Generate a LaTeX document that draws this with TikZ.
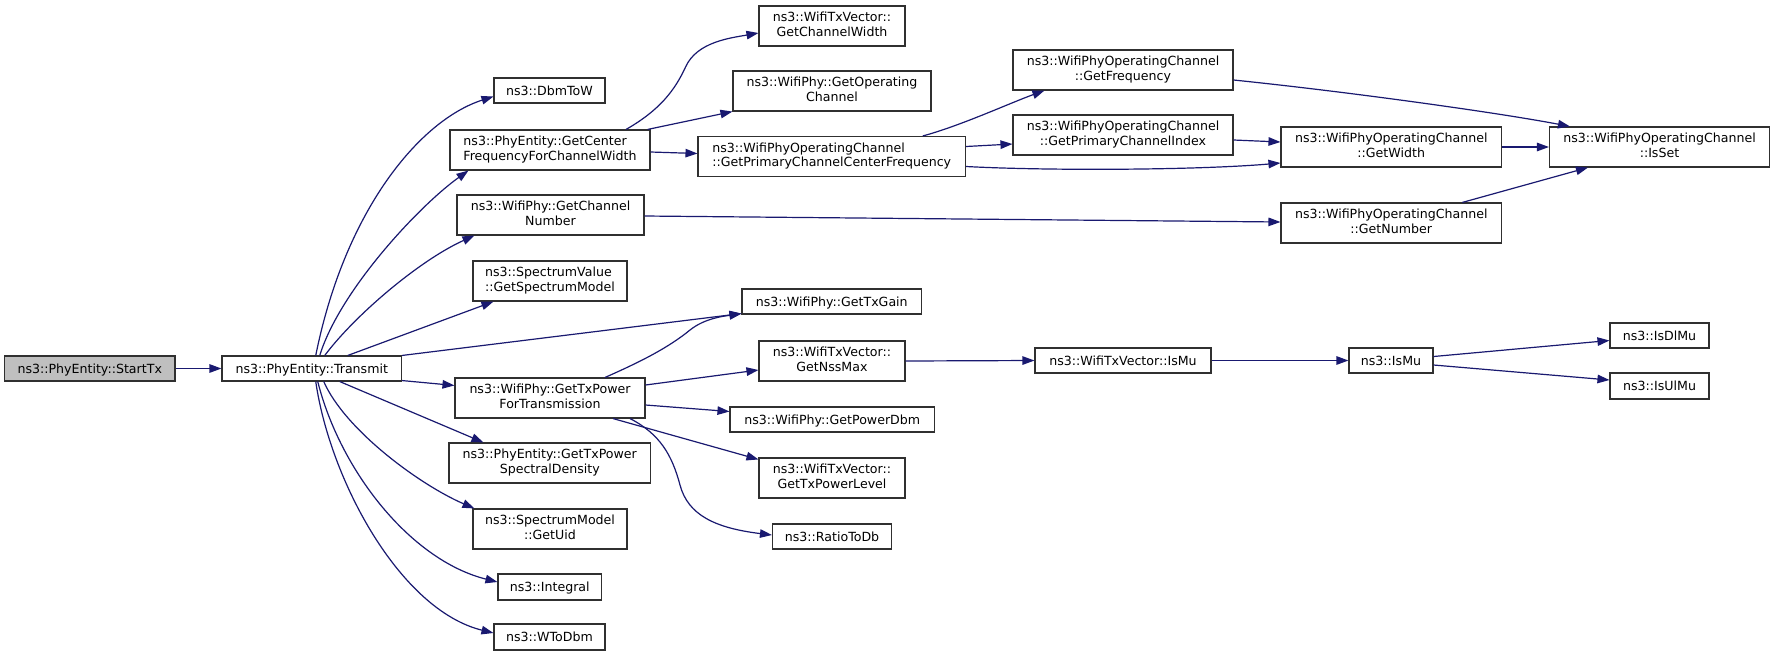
\documentclass[tikz,border=0pt]{standalone}
\usepackage{fontspec}
\setmainfont{DejaVu Sans}
\usetikzlibrary{arrows.meta,calc}
\definecolor{edgec}{HTML}{191970}
\definecolor{boxc}{HTML}{303030}
\definecolor{rootc}{HTML}{BFBFBF}
\newcommand\twol[2]{\begin{tabular}{@{}c@{}}\multicolumn{1}{@{}l@{}}{#1}\\#2\end{tabular}}
\begin{document}
\begin{tikzpicture}[x=1pt,y=-1pt,
  font=\fontsize{12.6}{14.3}\selectfont,
  box/.style={draw=boxc,line width=1.1pt,fill=white,inner sep=0pt,align=center,minimum height=40pt},
  one/.style={box,text height=9.2pt,text depth=0pt,minimum height=25pt},
  edge/.style={draw=edgec,line width=1.2pt,-{Triangle[length=12pt,width=8.5pt]}}]
\fill[white] (0,0) rectangle (1775,657);
\useasboundingbox (0,0) rectangle (1775,657);
% column 1-2
\node[one,fill=rootc,minimum width=170.5pt] (st) at (89.75,368.5) {ns3::PhyEntity::StartTx};
\node[one,minimum width=179.5pt] (tr) at (311.75,368.5) {ns3::PhyEntity::Transmit};
% column 3
\node[one,minimum width=111pt] (db) at (549.5,90.5) {ns3::DbmToW};
\node[box,minimum width=200pt] (gc) at (550,150) {\twol{ns3::PhyEntity::GetCenter}{FrequencyForChannelWidth}};
\node[box,minimum width=187pt] (gch) at (550.5,215) {\twol{ns3::WifiPhy::GetChannel}{Number}};
\node[box,minimum width=154pt] (gsm) at (550,281) {\twol{ns3::SpectrumValue}{::GetSpectrumModel}};
\node[box,minimum width=190pt] (gtp) at (550,398) {\twol{ns3::WifiPhy::GetTxPower}{ForTransmission}};
\node[box,minimum width=201.5pt] (gpsd) at (549.75,463) {\twol{ns3::PhyEntity::GetTxPower}{SpectralDensity}};
\node[box,minimum width=154pt] (guid) at (550,529) {\twol{ns3::SpectrumModel}{::GetUid}};
\node[one,minimum width=103.5pt,minimum height=26pt] (intg) at (549.75,587) {ns3::Integral};
\node[one,minimum width=111pt,minimum height=26pt] (wtd) at (549.5,637) {ns3::WToDbm};
% column 4
\node[box,minimum width=146pt] (gcw) at (832,26) {\twol{ns3::WifiTxVector::}{GetChannelWidth}};
\node[box,minimum width=198pt] (goc) at (832,91) {\twol{ns3::WifiPhy::GetOperating}{Channel}};
\node[box,minimum width=267.5pt] (pccf) at (831.75,156.5) {\twol{ns3::WifiPhyOperatingChannel}{::GetPrimaryChannelCenterFrequency}};
\node[one,minimum width=179.5pt] (gtg) at (831.75,301.5) {ns3::WifiPhy::GetTxGain};
\node[box,minimum width=146pt] (gnm) at (832,361) {\twol{ns3::WifiTxVector::}{GetNssMax}};
\node[one,minimum width=204.5pt] (gpd) at (832.25,419.5) {ns3::WifiPhy::GetPowerDbm};
\node[box,minimum width=146pt] (gtpl) at (832,478) {\twol{ns3::WifiTxVector::}{GetTxPowerLevel}};
\node[one,minimum width=119pt] (rtd) at (832,536.5) {ns3::RatioToDb};
% column 5
\node[box,minimum width=220pt] (gfr) at (1123,70) {\twol{ns3::WifiPhyOperatingChannel}{::GetFrequency}};
\node[box,minimum width=220pt] (gpci) at (1123,135) {\twol{ns3::WifiPhyOperatingChannel}{::GetPrimaryChannelIndex}};
\node[one,minimum width=176pt] (wmu) at (1123,360.5) {ns3::WifiTxVector::IsMu};
% column 6
\node[box,minimum width=220.5pt] (gw) at (1391.25,147) {\twol{ns3::WifiPhyOperatingChannel}{::GetWidth}};
\node[box,minimum width=220.5pt] (gnum) at (1391.25,223) {\twol{ns3::WifiPhyOperatingChannel}{::GetNumber}};
\node[one,minimum width=84pt] (ismu) at (1391,360.5) {ns3::IsMu};
% column 7
\node[box,minimum width=220pt] (isset) at (1659.5,147) {\twol{ns3::WifiPhyOperatingChannel}{::IsSet}};
\node[one,minimum width=99pt] (idl) at (1659.5,335.5) {ns3::IsDlMu};
\node[one,minimum width=99pt,minimum height=26pt] (iul) at (1659.5,386) {ns3::IsUlMu};
% edges
\draw[edge] (st.east) -- (tr.west);
\draw[edge] ($(tr.north)+(4,0)$) .. controls (345,210) and (420,120) .. ($(db.west)+(0,6)$);
\draw[edge] ($(tr.north)+(8,0)$) .. controls (340,290) and (420,205) .. ($(gc.south west)+(19,0)$);
\draw[edge] ($(tr.north)+(13,0)$) .. controls (355,315) and (420,260) .. ($(gch.south west)+(18,0)$);
\draw[edge] ($(tr.north)+(36,0)$) -- ($(gsm.south west)+(21,0)$);
\draw[edge] (tr.north east) -- ($(gtg.south west)+(0,-1)$);
\draw[edge] ($(tr.south east)+(0,-1)$) -- ($(gtp.north west)+(0,8)$);
\draw[edge] ($(tr.south)+(28,0)$) -- ($(gpsd.north west)+(35,0)$);
\draw[edge] ($(tr.south)+(12,0)$) .. controls (345,430) and (420,485) .. ($(guid.north west)+(2,0)$);
\draw[edge] ($(tr.south)+(6,0)$) .. controls (340,470) and (410,560) .. ($(intg.west)+(0,-5)$);
\draw[edge] ($(tr.south)+(4,0)$) .. controls (330,480) and (400,610) .. ($(wtd.west)+(0,-4)$);
\draw[edge] ($(gc.north)+(76,0)$) .. controls (660,110) and (675,90) .. (685.7,66.7) .. controls (697,42) and (730,38) .. ($(gcw.west)+(0,7)$);
\draw[edge] ($(gc.north east)+(-3,0)$) -- (goc.south west);
\draw[edge] ($(gc.east)+(0,2)$) -- ($(pccf.west)+(0,-3)$);
\draw[edge] ($(gch.east)+(0,1)$) -- ($(gnum.west)+(0,-1)$);
\draw[edge] ($(pccf.north)+(91,0)$) .. controls (960,126) and (1010,103) .. ($(gfr.south west)+(32,0)$);
\draw[edge] ($(pccf.east)+(0,-10)$) -- ($(gpci.west)+(0,9)$);
\draw[edge] ($(pccf.east)+(0,10)$) .. controls (1050,171) and (1200,170) .. ($(gw.west)+(0,16)$);
\draw[edge] ($(gfr.east)+(0,10)$) .. controls (1350,92) and (1500,113) .. ($(isset.north west)+(21,0)$);
\draw[edge] ($(gpci.east)+(0,5)$) -- ($(gw.west)+(0,-5)$);
\draw[edge] (gw.east) -- (isset.west);
\draw[edge] ($(gnum.north)+(71,0)$) -- ($(isset.south west)+(39,0)$);
\draw[edge] ($(gtp.north)+(55,0)$) .. controls (640,362) and (668,348) .. (690,330) .. controls (705,318) and (725,316) .. ($(gtg.south west)+(0,-1)$);
\draw[edge] ($(gtp.east)+(0,-13)$) -- ($(gnm.west)+(0,9)$);
\draw[edge] ($(gtp.east)+(0,7)$) -- ($(gpd.west)+(0,-8)$);
\draw[edge] ($(gtp.south)+(63,0)$) -- ($(gtpl.north west)+(0,2)$);
\draw[edge] ($(gtp.south)+(80,0)$) .. controls (660,434) and (672,455) .. (680,485) .. controls (688,515) and (715,528) .. ($(rtd.west)+(0,-1.5)$);
\draw[edge] (gnm.east) -- (wmu.west);
\draw[edge] (wmu.east) -- (ismu.west);
\draw[edge] ($(ismu.east)+(0,-4)$) -- ($(idl.west)+(0,5)$);
\draw[edge] ($(ismu.east)+(0,4.5)$) -- ($(iul.west)+(0,-6)$);
\end{tikzpicture}
\end{document}
